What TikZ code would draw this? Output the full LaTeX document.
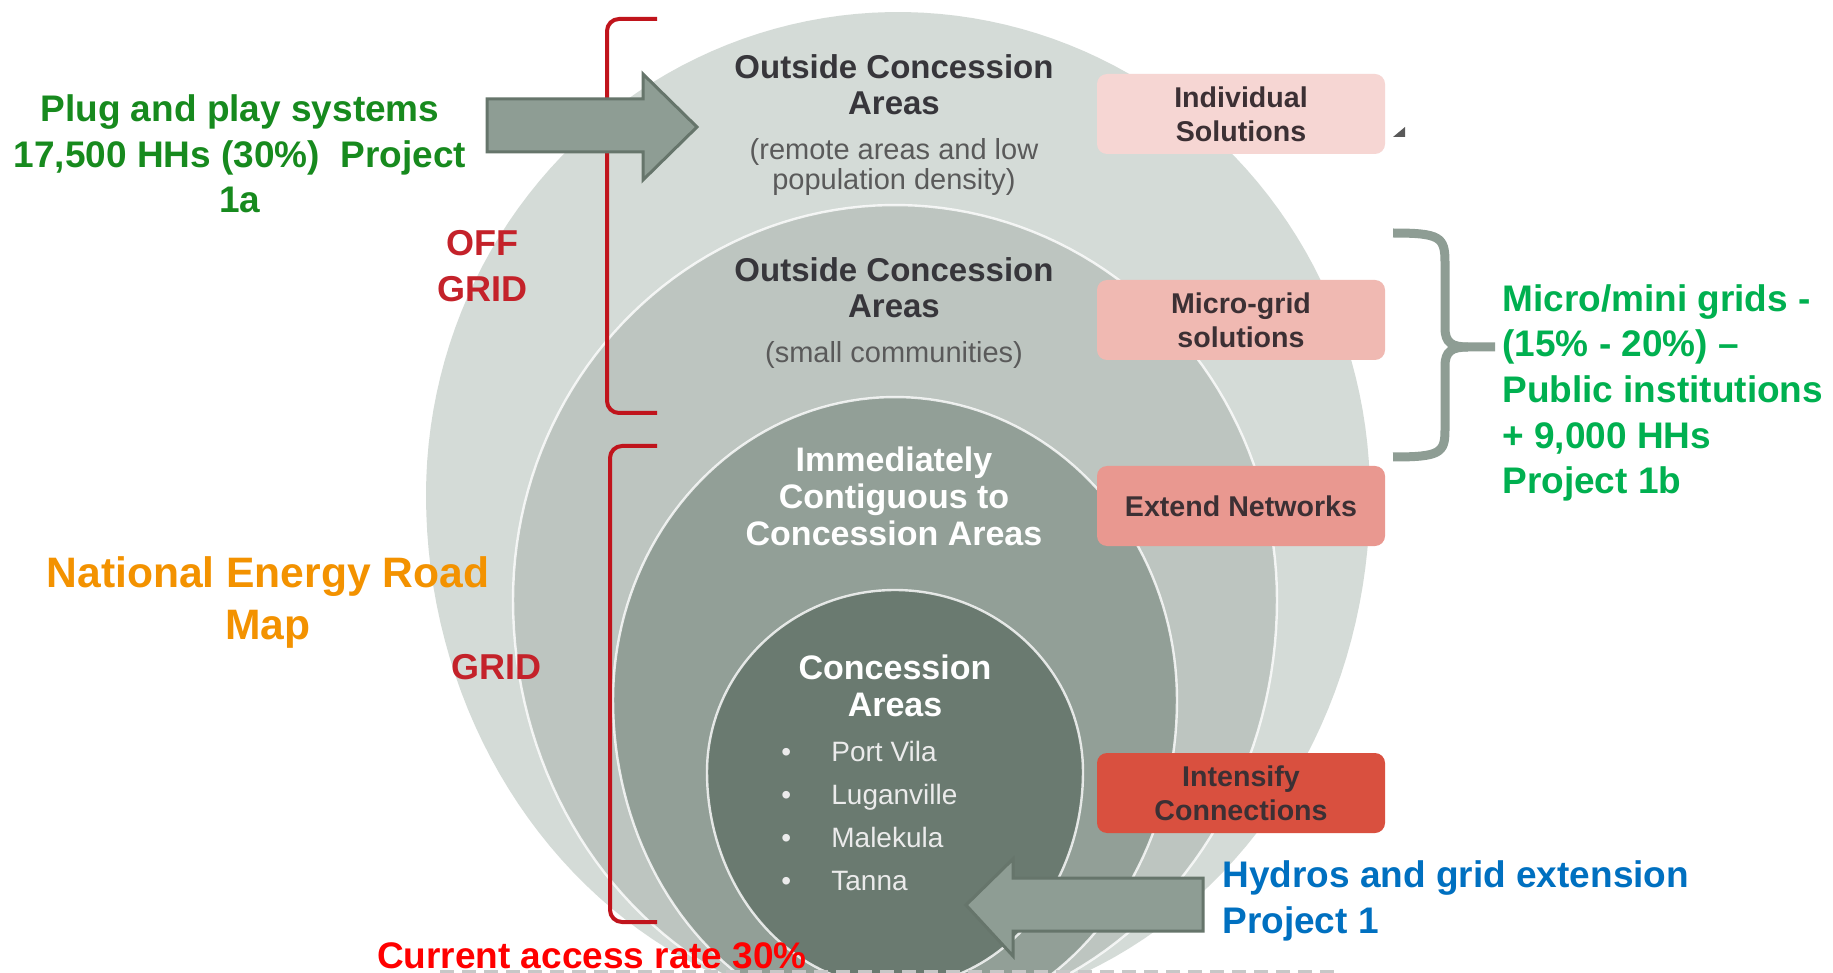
\documentclass[tikz,border=0pt]{standalone}
\usepackage{fontspec}
\setmainfont{Liberation Sans}
\definecolor{cA}{HTML}{D4DBD7}
\definecolor{cB}{HTML}{BDC5C0}
\definecolor{cC}{HTML}{929F97}
\definecolor{cD}{HTML}{6A7A70}
\definecolor{arrowfill}{HTML}{8E9D94}
\definecolor{arrowline}{HTML}{66756B}
\definecolor{bracketred}{HTML}{C0141C}
\definecolor{gridred}{HTML}{C4222A}
\definecolor{pinkA}{HTML}{F6D6D3}
\definecolor{pinkB}{HTML}{F0B9B2}
\definecolor{pinkC}{HTML}{E99890}
\definecolor{pinkD}{HTML}{D9503F}
\definecolor{boxtext}{HTML}{3C3034}
\definecolor{headtext}{HTML}{37363B}
\definecolor{subtext}{HTML}{5A5A5A}
\definecolor{greenA}{HTML}{178A1E}
\definecolor{greenB}{HTML}{00B050}
\definecolor{orangeA}{HTML}{F39200}
\definecolor{blueA}{HTML}{0070C0}
\definecolor{redA}{HTML}{FF0000}
\begin{document}
\begin{tikzpicture}[x=0.5pt,y=-0.5pt,
  egg/.style n args={5}{insert path={plot[domain=180:360,samples=90] ({#1+#3*cos(\x)},{#2+#4*sin(\x)}) -- plot[domain=0:180,samples=90] ({#1+#3*cos(\x)},{#2+#5*sin(\x)}) -- cycle}},
  ring/.style={draw=white, draw opacity=0.8, line width=1.2pt},
  box/.style={rounded corners=5pt, minimum width=144pt, minimum height=40pt, align=center, inner sep=2pt,
    font=\bfseries\fontsize{14.3pt}{17pt}\selectfont, text=boxtext},
  head/.style={align=center, inner sep=0pt, font=\bfseries\fontsize{16.5pt}{18pt}\selectfont, text=headtext},
  sub/.style={align=center, inner sep=0pt, font=\fontsize{14.5pt}{15pt}\selectfont, text=subtext},
  whitehead/.style={align=center, inner sep=0pt, font=\bfseries\fontsize{17pt}{18.5pt}\selectfont, text=white},
  bigtext/.style={inner sep=0pt, font=\bfseries\fontsize{18.5pt}{22.8pt}\selectfont},
  gridlabel/.style={align=center, inner sep=0pt, font=\bfseries\fontsize{18pt}{22.8pt}\selectfont, text=gridred},
  blockarrow/.style={fill=arrowfill, draw=arrowline, line width=1.5pt, line join=miter},
  redbracket/.style={draw=bracketred, line width=2pt, rounded corners=6pt},
  graybrace/.style={draw=arrowfill, line width=4.5pt}
]
\useasboundingbox (0,0) rectangle (1833,973);
\fill[white] (0,0) rectangle (1833,973);

% nested areas
\begin{scope}
\clip (0,0) rectangle (1833,973);
\path[fill=cA, egg={898}{495}{472}{483}{520}];
\path[fill=cB, ring, egg={895}{600}{382}{395}{420}];
\path[fill=cC, ring, egg={895}{700}{282}{303}{330}];
\path[fill=cD, ring, egg={895}{772}{188}{182}{215}];
\end{scope}

% faint cut-off line at the bottom
\draw[black!22, line width=1.5pt, dash pattern=on 7pt off 4pt] (440,971) -- (1335,971);

% boxes on the right
\node[box, fill=pinkA] (ind) at (1241,114) {Individual\\Solutions};
\node[box, fill=pinkB] (micro) at (1241,320) {Micro-grid\\solutions};
\node[box, fill=pinkC] (ext) at (1241,506) {Extend Networks};
\node[box, fill=pinkD] (int) at (1241,793) {Intensify\\Connections};
\fill[black!65] (1393,137) -- (1405,127) -- (1405,137) -- cycle;

% texts in the areas
\node[head] (oc1) at (894,85) {Outside Concession\\Areas};
\node[sub] (oc1s) at (894,167) {(remote areas and low\\population density)};
\node[head] (oc2) at (894,288) {Outside Concession\\Areas};
\node[sub] (oc2s) at (894,355) {(small communities)};
\node[whitehead] (imm) at (894,496) {Immediately\\Contiguous to\\Concession Areas};
\node[whitehead] (con) at (895,686) {Concession\\Areas};
\node[anchor=west, align=left, inner sep=0pt, text=white!92!black,
      font=\fontsize{14pt}{21.5pt}\selectfont] (towns) at (781,816)
  {\makebox[25pt][l]{•}Port Vila\\\makebox[25pt][l]{•}Luganville\\\makebox[25pt][l]{•}Malekula\\\makebox[25pt][l]{•}Tanna};

% red brackets and labels
\draw[redbracket] (657,19) -- (607,19) -- (607,413) -- (657,413);
\draw[redbracket] (657,446) -- (610,446) -- (610,922) -- (657,922);
\node[gridlabel] (off) at (482,266) {OFF\\GRID};
\node[gridlabel] (grid) at (496,667) {GRID};

% block arrows
\draw[blockarrow] (487,99) -- (643,99) -- (643,74) -- (697,127) -- (643,180) -- (643,152) -- (487,152) -- cycle;
\draw[blockarrow] (1203,878) -- (1013,878) -- (1013,859) -- (966,905) -- (1013,956) -- (1013,931) -- (1203,931) -- cycle;

% gray brace
\draw[graybrace] (1393,233) .. controls (1440,233) and (1445,237) .. (1445,262) -- (1445,328)
  .. controls (1445,343) and (1452,347) .. (1468,347) -- (1495,347);
\draw[graybrace] (1468,347) .. controls (1452,347) and (1445,351) .. (1445,366) -- (1445,430)
  .. controls (1445,453) and (1440,457) .. (1393,457);

% annotation texts
\node[bigtext, text=greenA, align=center] (plug) at (240,154)
  {Plug and play systems\\17,500 HHs (30\%)\ \ Project\\1a};
\node[bigtext, text=greenB, align=left, anchor=west] (mini) at (1502,393)
  {Micro/mini grids -\\(15\% - 20\%) –\\Public institutions\\+ 9,000 HHs\\Project 1b};
\node[inner sep=0pt, align=center, text=orangeA, font=\bfseries\fontsize{21.3pt}{26pt}\selectfont] (ner) at (268,602)
  {National Energy Road\\Map};
\node[bigtext, text=blueA, align=left, anchor=west] (hydro) at (1222,901)
  {Hydros and grid extension\\Project 1};
\node[bigtext, text=redA] (rate) at (592,956) {Current access rate 30\%};
\end{tikzpicture}
\end{document}
